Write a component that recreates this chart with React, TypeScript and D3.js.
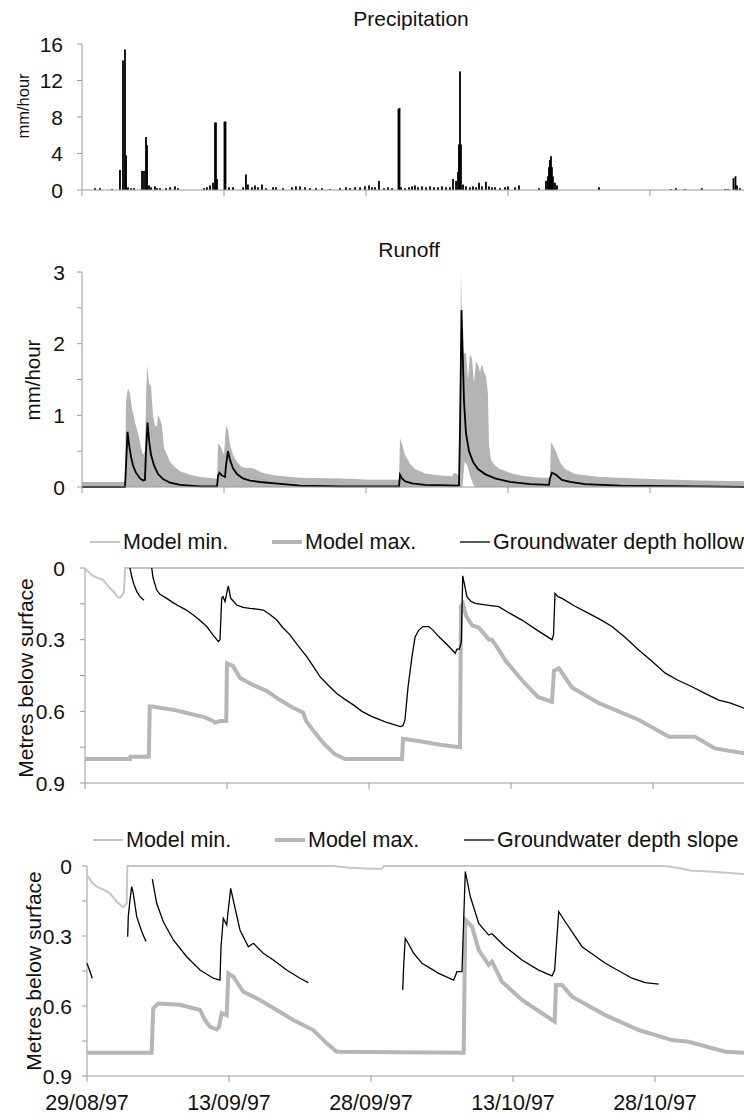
import React from 'react';
import * as d3 from 'd3';

type P = [number, number];

// x axis: days since 29/08/97
const xTickDays = [0, 15, 30, 45, 60];
const xTickLabels = ['29/08/97', '13/09/97', '28/09/97', '13/10/97', '28/10/97'];
const xDomain: P = [0, 70];

// Precipitation (mm/hour), [day, value]
const precipitation: P[] = [
  [1.37, 0.2], [1.9, 0.2], [3.17, 0.1], [4.01, 2.2], [4.33, 14.2], [4.54, 15.4], [4.65, 3.8], [4.86, 0.3],
  [5.18, 0.2], [5.49, 0.2], [6.34, 2.1], [6.55, 2.1], [6.76, 5.8], [6.87, 4.9], [7.08, 0.5], [7.29, 0.3],
  [7.71, 0.4], [7.92, 0.2], [8.24, 0.2], [8.87, 0.2], [9.3, 0.3], [9.82, 0.4], [10.14, 0.2], [12.89, 0.2],
  [13.2, 0.3], [13.52, 0.5], [13.84, 0.8], [14.05, 7.4], [14.15, 7.4], [14.26, 1.2], [15.05, 7.5], [15.16, 7.5],
  [15.53, 0.3], [15.95, 0.3], [17.01, 0.3], [17.32, 1.7], [17.53, 0.6], [17.96, 0.3], [18.27, 0.5], [18.59, 0.3],
  [19.01, 0.6], [19.44, 0.2], [20.18, 0.3], [20.49, 0.3], [21.23, 0.2], [22.18, 0.3], [22.6, 0.4], [23.03, 0.4],
  [23.56, 0.3], [24.08, 0.2], [24.72, 0.2], [25.35, 0.2], [26.2, 0.1], [27.25, 0.2], [27.89, 0.3], [28.31, 0.2],
  [28.84, 0.3], [29.37, 0.3], [29.89, 0.4], [30.32, 0.5], [30.63, 0.3], [30.95, 0.3], [31.37, 1.0], [31.9, 0.2],
  [32.32, 0.3], [32.75, 0.2], [33.43, 8.9], [33.54, 9.0], [33.7, 0.3], [34.12, 0.2], [34.54, 0.3], [34.86, 0.4],
  [35.17, 0.5], [35.49, 0.3], [35.91, 0.4], [36.34, 0.3], [36.76, 0.4], [37.18, 0.3], [37.6, 0.3], [38.03, 0.4],
  [38.45, 0.3], [38.87, 0.3], [39.19, 1.2], [39.51, 1.0], [39.72, 2.0], [39.82, 5.0], [39.93, 13.0], [40.03, 5.0],
  [40.25, 0.6], [40.56, 0.4], [40.98, 0.3], [41.3, 0.4], [41.62, 0.3], [41.94, 0.8], [42.25, 0.4], [42.67, 0.9],
  [42.99, 0.4], [43.31, 0.3], [43.63, 0.3], [44.15, 0.2], [44.68, 0.3], [45.0, 0.4], [45.74, 0.3], [46.16, 0.5],
  [48.27, 0.2], [49.01, 1.0], [49.22, 1.5], [49.33, 2.5], [49.43, 3.3], [49.54, 3.7], [49.64, 2.5], [49.75, 1.5],
  [49.96, 0.8], [50.17, 0.5], [54.61, 0.3], [62.2, 0.1], [62.73, 0.2], [63.68, 0.1], [65.47, 0.2], [67.92, 0.1],
  [68.24, 0.1], [68.82, 1.3], [69.03, 1.5], [69.19, 0.5], [69.51, 0.2],
];
const precipTicks = [0, 4, 8, 12, 16];

// Runoff (mm/hour)
const runoffModelMax: P[] = [
  [0, 0.07], [4.54, 0.07], [4.65, 1.2], [4.86, 1.38], [5.07, 1.3], [5.28, 1.1], [5.6, 0.9], [5.92, 0.75],
  [6.23, 0.55], [6.44, 0.45], [6.65, 0.5], [6.76, 1.2], [6.87, 1.7], [7.08, 1.45], [7.29, 1.4], [7.5, 1.0],
  [7.71, 0.85], [7.92, 0.85], [8.03, 1.0], [8.24, 0.95], [8.45, 0.85], [8.66, 0.55], [8.98, 0.45], [9.3, 0.35],
  [9.82, 0.28], [10.35, 0.22], [11.41, 0.17], [12.46, 0.14], [14.05, 0.12], [14.26, 0.12], [14.37, 0.6],
  [14.58, 0.58], [14.79, 0.52], [15.0, 0.45], [15.21, 0.85], [15.42, 0.8], [15.63, 0.6], [15.95, 0.45],
  [16.37, 0.35], [16.9, 0.28], [17.43, 0.26], [17.75, 0.27], [18.27, 0.25], [19.01, 0.2], [20.39, 0.16],
  [23.03, 0.13], [27.25, 0.12], [30.63, 0.1], [33.49, 0.1], [33.59, 0.68], [33.8, 0.6], [34.12, 0.45],
  [34.65, 0.32], [35.17, 0.25], [36.23, 0.19], [37.82, 0.16], [39.08, 0.15], [39.29, 0.2], [39.61, 0.18],
  [39.82, 0.15], [39.93, 1.2], [40.03, 3.02], [40.14, 2.3], [40.25, 1.85], [40.56, 1.88], [40.77, 1.5],
  [40.98, 1.85], [41.19, 1.8], [41.41, 1.45], [41.62, 1.75], [41.83, 1.7], [42.04, 1.6], [42.25, 1.72],
  [42.46, 1.6], [42.67, 1.55], [42.88, 1.3], [42.99, 0.6], [43.2, 0.38], [43.63, 0.3], [44.15, 0.25],
  [45.21, 0.2], [46.27, 0.16], [48.38, 0.13], [49.43, 0.13], [49.54, 0.62], [49.75, 0.58], [50.07, 0.5],
  [50.49, 0.35], [51.02, 0.25], [52.07, 0.18], [54.72, 0.14], [60.0, 0.11], [65.28, 0.09], [70, 0.08],
];
const runoffModelMin: P[] = [
  [40.2, 0], [40.4, 0.35], [40.7, 0.3], [41.0, 0.15], [41.3, 0.05], [41.5, 0],
];
const runoffObserved: P[] = [
  [0, 0.0], [4.54, 0.0], [4.65, 0.3], [4.81, 0.77], [4.96, 0.6], [5.18, 0.42], [5.39, 0.3], [5.7, 0.2],
  [6.13, 0.12], [6.44, 0.09], [6.65, 0.1], [6.76, 0.5], [6.92, 0.9], [7.08, 0.65], [7.29, 0.45], [7.61, 0.3],
  [8.03, 0.18], [8.56, 0.11], [9.3, 0.06], [10.35, 0.03], [12.46, 0.01], [14.26, 0.01], [14.37, 0.15],
  [14.52, 0.2], [14.79, 0.16], [15.11, 0.14], [15.21, 0.3], [15.42, 0.5], [15.63, 0.38], [15.95, 0.26],
  [16.37, 0.18], [17.01, 0.12], [17.75, 0.09], [18.8, 0.07], [20.39, 0.05], [23.03, 0.02], [27.25, 0.01],
  [33.49, 0.01], [33.59, 0.17], [33.8, 0.12], [34.12, 0.08], [34.86, 0.05], [36.23, 0.03], [39.82, 0.02],
  [39.93, 0.8], [40.09, 2.47], [40.19, 2.0], [40.35, 1.2], [40.56, 0.75], [40.88, 0.5], [41.3, 0.35],
  [41.83, 0.25], [42.57, 0.18], [43.63, 0.12], [45.21, 0.07], [47.32, 0.04], [49.33, 0.03], [49.43, 0.12],
  [49.64, 0.2], [50.07, 0.17], [50.7, 0.1], [51.55, 0.07], [53.13, 0.04], [56.83, 0.02], [65.28, 0.01], [70, 0.0],
];
const runoffTicks = [0, 1, 2, 3];
const runoffMinorTicks = [0.5, 1.5, 2.5];

// Groundwater depth hollow (m below surface)
const hollowModelMin: P[] = [
  [0, 0.0], [0.32, 0.015], [0.74, 0.03], [1.27, 0.04], [1.9, 0.05], [2.32, 0.07], [2.64, 0.085], [3.06, 0.1],
  [3.38, 0.12], [3.7, 0.125], [3.91, 0.115], [4.12, 0.1], [4.23, 0.0], [70, 0.0],
];
const hollowModelMax: P[] = [
  [0, 0.8], [4.75, 0.8], [4.8, 0.79], [6.74, 0.79], [6.84, 0.58], [7.08, 0.58], [7.92, 0.585], [9.51, 0.595],
  [11.09, 0.61], [12.68, 0.625], [13.52, 0.64], [13.73, 0.648], [14.26, 0.64], [14.92, 0.64], [15.0, 0.4],
  [15.63, 0.41], [16.37, 0.46], [17.75, 0.49], [19.22, 0.515], [20.28, 0.545], [21.97, 0.585], [23.03, 0.605],
  [23.35, 0.64], [24.29, 0.69], [25.35, 0.74], [26.41, 0.78], [27.46, 0.8], [33.49, 0.8], [33.59, 0.715],
  [35.39, 0.725], [37.5, 0.74], [39.61, 0.75], [39.72, 0.16], [39.93, 0.15], [40.25, 0.2], [40.88, 0.24],
  [41.62, 0.25], [42.25, 0.28], [42.68, 0.3], [42.99, 0.3], [43.84, 0.35], [44.37, 0.385], [46.16, 0.47],
  [47.85, 0.54], [49.33, 0.56], [49.54, 0.43], [50.07, 0.42], [51.44, 0.5], [54.29, 0.566], [58.52, 0.636],
  [61.69, 0.706], [64.43, 0.706], [66.55, 0.755], [69.61, 0.776], [70, 0.777],
];
const hollowObservedA: P[] = [
  [4.75, 0.0], [4.96, 0.04], [5.18, 0.07], [5.49, 0.1], [5.81, 0.12], [6.23, 0.135],
];
const hollowObservedB: P[] = [
  [7.05, 0.0], [7.18, 0.04], [7.57, 0.092], [7.92, 0.11], [8.63, 0.127], [9.3, 0.145], [10.03, 0.162],
  [10.67, 0.175], [11.44, 0.197], [12.15, 0.22], [12.86, 0.245], [13.52, 0.28], [14.08, 0.308], [14.26, 0.3],
  [14.44, 0.126], [14.58, 0.12], [14.79, 0.14], [15.0, 0.1], [15.14, 0.075], [15.39, 0.126], [16.02, 0.155],
  [16.69, 0.165], [17.43, 0.169], [18.17, 0.172], [18.83, 0.176], [19.54, 0.195], [20.25, 0.218], [20.91, 0.25],
  [21.65, 0.28], [22.5, 0.325], [23.42, 0.371], [24.08, 0.41], [24.82, 0.455], [25.67, 0.49], [26.59, 0.525],
  [27.46, 0.55], [28.34, 0.573], [29.26, 0.6], [30.32, 0.622], [31.79, 0.645], [33.31, 0.664], [33.59, 0.66],
  [33.8, 0.636], [34.12, 0.5], [34.54, 0.371], [34.86, 0.29], [35.25, 0.26], [35.7, 0.245], [36.31, 0.245],
  [36.76, 0.26], [37.36, 0.287], [38.24, 0.32], [39.11, 0.357], [39.29, 0.34], [39.54, 0.34], [39.75, 0.31],
  [39.9, 0.033], [40.14, 0.08], [40.35, 0.12], [40.77, 0.14], [41.23, 0.148], [42.46, 0.155], [43.7, 0.162],
  [44.89, 0.19], [46.16, 0.218], [47.75, 0.26], [49.33, 0.3], [49.49, 0.28], [49.65, 0.106], [49.96, 0.12],
  [50.39, 0.127], [51.76, 0.16], [53.21, 0.19], [54.4, 0.215], [55.67, 0.245], [57.04, 0.29], [58.49, 0.343],
  [59.89, 0.39], [61.3, 0.44], [62.64, 0.47], [64.12, 0.497], [65.49, 0.525], [66.94, 0.553], [68.13, 0.565],
  [69.61, 0.587], [70, 0.59],
];

// Groundwater depth slope (m below surface)
const slopeModelMin: P[] = [
  [0, 0.039], [0.53, 0.07], [1.02, 0.089], [1.69, 0.1], [2.43, 0.117], [3.14, 0.153], [3.49, 0.165],
  [3.83, 0.177], [4.19, 0.16], [4.26, 0.0], [25.99, 0.0], [27.78, 0.008], [30.1, 0.012], [31.16, 0.012],
  [31.37, 0.0], [61.05, 0.0], [62.64, 0.01], [63.91, 0.02], [65.28, 0.022], [69.4, 0.034], [70, 0.035],
];
const slopeModelMax: P[] = [
  [0, 0.8], [6.83, 0.8], [7.0, 0.61], [7.53, 0.589], [9.82, 0.595], [11.94, 0.617], [12.46, 0.66],
  [12.99, 0.689], [13.7, 0.7], [13.94, 0.69], [14.23, 0.631], [14.76, 0.64], [14.93, 0.46], [15.45, 0.474],
  [16.51, 0.539], [18.27, 0.574], [20.04, 0.617], [21.79, 0.66], [23.9, 0.703], [25.32, 0.76], [26.38, 0.796],
  [39.79, 0.8], [39.96, 0.231], [40.67, 0.26], [41.38, 0.36], [42.43, 0.424], [42.78, 0.41], [43.84, 0.496],
  [45.95, 0.574], [48.06, 0.631], [49.4, 0.667], [49.54, 0.51], [50.17, 0.51], [51.23, 0.56], [54.75, 0.639],
  [58.28, 0.703], [61.8, 0.746], [63.56, 0.753], [67.42, 0.796], [69.4, 0.8], [70, 0.8],
];
const slopeObservedA: P[] = [[0, 0.417], [0.21, 0.44], [0.56, 0.481]];
const slopeObservedB: P[] = [
  [4.3, 0.303], [4.36, 0.217], [4.54, 0.146], [4.72, 0.089], [4.89, 0.117], [5.25, 0.217], [5.78, 0.281], [6.23, 0.324],
];
const slopeObservedC: P[] = [
  [6.9, 0.056], [7.36, 0.16], [8.06, 0.239], [9.12, 0.317], [10.53, 0.389], [11.94, 0.446], [13.34, 0.481],
  [14.05, 0.489], [14.15, 0.35], [14.4, 0.224], [14.76, 0.253], [14.89, 0.2], [15.18, 0.096], [15.45, 0.146],
  [16.16, 0.274], [17.04, 0.346], [17.57, 0.331], [18.62, 0.374], [19.68, 0.403], [21.09, 0.446], [22.5, 0.481],
  [23.38, 0.5],
];
const slopeObservedD: P[] = [
  [33.35, 0.531], [33.45, 0.43], [33.62, 0.31], [33.91, 0.33], [34.51, 0.374], [35.39, 0.417], [37.15, 0.46],
  [38.73, 0.489], [39.08, 0.453], [39.61, 0.453], [39.96, 0.024], [40.49, 0.131], [41.38, 0.246], [42.43, 0.296],
  [42.78, 0.29], [44.18, 0.346], [45.95, 0.403], [47.71, 0.446], [49.12, 0.471], [49.4, 0.446], [49.83, 0.196],
  [50.52, 0.239], [52.29, 0.346], [54.75, 0.417], [57.57, 0.481], [58.97, 0.5], [60.39, 0.506],
];
const depthTicks = [0, 0.3, 0.6, 0.9];
const depthMinorTicks = [0.15, 0.45, 0.75];

const FONT = '"Liberation Sans", Arial, Helvetica, sans-serif';
const AXIS = '#9a9a9a';
const MIN_C = '#c6c6c6';
const MAX_C = '#b6b6b6';
const PX_PER_DAY = 142 / 15;

function xScale(left: number) {
  return d3.scaleLinear().domain(xDomain).range([left, left + (xDomain[1] - xDomain[0]) * PX_PER_DAY]);
}

function Axes({ x, y, ticks, minor, fmt, labelX, axisY, topY }: any) {
  const [r0, r1] = x.range();
  return (
    <g>
      <line x1={r0} x2={r1 + 5} y1={axisY} y2={axisY} stroke={AXIS} strokeWidth={1} />
      <line x1={r0} x2={r0} y1={topY} y2={axisY} stroke={AXIS} strokeWidth={1} />
      {xTickDays.map((d: number) => (
        <line key={'xt' + d} x1={x(d)} x2={x(d)} y1={axisY} y2={axisY + 6} stroke={AXIS} strokeWidth={1} />
      ))}
      {ticks.concat(minor).map((t: number) => (
        <line key={'yt' + t} x1={r0 - 5} x2={r0} y1={y(t)} y2={y(t)} stroke={AXIS} strokeWidth={1} />
      ))}
      {ticks.map((t: number) => (
        <text key={'yl' + t} x={labelX} y={y(t)} textAnchor="end" dominantBaseline="central"
          fontSize={21} fontFamily={FONT} fill="#111">{fmt(t)}</text>
      ))}
    </g>
  );
}

function Legend({ y, x0, label3 }: { y: number; x0: number[]; label3: string }) {
  const items = [
    { c: MIN_C, w: 2, t: 'Model min.' },
    { c: MAX_C, w: 4, t: 'Model max.' },
    { c: '#000', w: 1.3, t: label3 },
  ];
  return (
    <g>
      {items.map((it, i) => (
        <g key={i}>
          <line x1={x0[i]} x2={x0[i] + 30} y1={y} y2={y} stroke={it.c} strokeWidth={it.w} />
          <text x={x0[i] + 33} y={y} dominantBaseline="central" fontSize={21.5} fontFamily={FONT} fill="#111">{it.t}</text>
        </g>
      ))}
    </g>
  );
}

export default function App() {
  // Panel 1: precipitation
  const x1 = xScale(82);
  const y1 = d3.scaleLinear().domain([0, 16]).range([190, 44]);
  // Panel 2: runoff
  const x2 = xScale(82);
  const y2 = d3.scaleLinear().domain([0, 3]).range([487, 272]);
  // Panel 3: hollow
  const x3 = xScale(85);
  const y3 = d3.scaleLinear().domain([0, 0.9]).range([568, 783]);
  // Panel 4: slope
  const x4 = xScale(87);
  const y4 = d3.scaleLinear().domain([0, 0.9]).range([866, 1076]);

  const lineOf = (x: any, y: any) => d3.line<P>().x(d => x(d[0])).y(d => y(d[1]));
  const areaOf = (x: any, y: any) => d3.area<P>().x(d => x(d[0])).y0(y(0)).y1(d => y(d[1]));

  const l3 = lineOf(x3, y3);
  const l4 = lineOf(x4, y4);
  const fmtDepth = (t: number) => (t === 0 ? '0' : d3.format('.1f')(t));

  return (
    <div style={{ position: 'absolute', left: 0, top: 0 }}>
      <svg width={744} height={1118} style={{ display: 'block', background: '#fff' }}>
        <rect x={0} y={0} width={744} height={1118} fill="#fff" />

        {/* Panel 1 */}
        <text x={411} y={18} textAnchor="middle" dominantBaseline="central" fontSize={21} fontFamily={FONT} fill="#111">Precipitation</text>
        <text transform="translate(23,106) rotate(-90)" textAnchor="middle" dominantBaseline="central" fontSize={16.5} fontFamily={FONT} fill="#111">mm/hour</text>
        {precipitation.map((d, i) => (
          <rect key={i} x={x1(d[0]) - 0.9} width={1.8} y={y1(d[1])} height={y1(0) - y1(d[1])} fill="#000" />
        ))}
        <Axes x={x1} y={y1} ticks={precipTicks} minor={[]} fmt={(t: number) => String(t)} labelX={63} axisY={190} topY={44} />

        {/* Panel 2 */}
        <text x={409} y={249} textAnchor="middle" dominantBaseline="central" fontSize={21} fontFamily={FONT} fill="#111">Runoff</text>
        <text transform="translate(32,380) rotate(-90)" textAnchor="middle" dominantBaseline="central" fontSize={20.5} fontFamily={FONT} fill="#111">mm/hour</text>
        <path d={areaOf(x2, y2)(runoffModelMax) || ''} fill="#b4b4b4" />
        <path d={areaOf(x2, y2)(runoffModelMin) || ''} fill="#fff" />
        <path d={lineOf(x2, y2)(runoffObserved) || ''} fill="none" stroke="#000" strokeWidth={1.8} />
        <Axes x={x2} y={y2} ticks={runoffTicks} minor={runoffMinorTicks} fmt={(t: number) => String(t)} labelX={65} axisY={487} topY={272} />

        {/* Panel 3 */}
        <Legend y={542} x0={[90, 272, 460]} label3="Groundwater depth hollow" />
        <text transform="translate(25,678) rotate(-90)" textAnchor="middle" dominantBaseline="central" fontSize={21} fontFamily={FONT} fill="#111">Metres below surface</text>
        <Axes x={x3} y={y3} ticks={depthTicks} minor={depthMinorTicks} fmt={fmtDepth} labelX={65} axisY={783} topY={568} />
        <path d={l3(hollowModelMax) || ''} fill="none" stroke={MAX_C} strokeWidth={4} />
        <path d={l3(hollowModelMin) || ''} fill="none" stroke={MIN_C} strokeWidth={2} />
        <path d={l3(hollowObservedA) || ''} fill="none" stroke="#000" strokeWidth={1.3} />
        <path d={l3(hollowObservedB) || ''} fill="none" stroke="#000" strokeWidth={1.3} />

        {/* Panel 4 */}
        <Legend y={840} x0={[93, 275, 464]} label3="Groundwater depth slope" />
        <text transform="translate(33,971) rotate(-90)" textAnchor="middle" dominantBaseline="central" fontSize={21} fontFamily={FONT} fill="#111">Metres below surface</text>
        <Axes x={x4} y={y4} ticks={depthTicks} minor={depthMinorTicks} fmt={fmtDepth} labelX={72} axisY={1076} topY={866} />
        <path d={l4(slopeModelMax) || ''} fill="none" stroke={MAX_C} strokeWidth={4} />
        <path d={l4(slopeModelMin) || ''} fill="none" stroke={MIN_C} strokeWidth={2} />
        {[slopeObservedA, slopeObservedB, slopeObservedC, slopeObservedD].map((s, i) => (
          <path key={i} d={l4(s) || ''} fill="none" stroke="#000" strokeWidth={1.3} />
        ))}
        {xTickDays.map((d, i) => (
          <text key={d} x={x4(d)} y={1103} textAnchor="middle" dominantBaseline="central" fontSize={21.5} fontFamily={FONT} fill="#111">{xTickLabels[i]}</text>
        ))}
      </svg>
    </div>
  );
}
